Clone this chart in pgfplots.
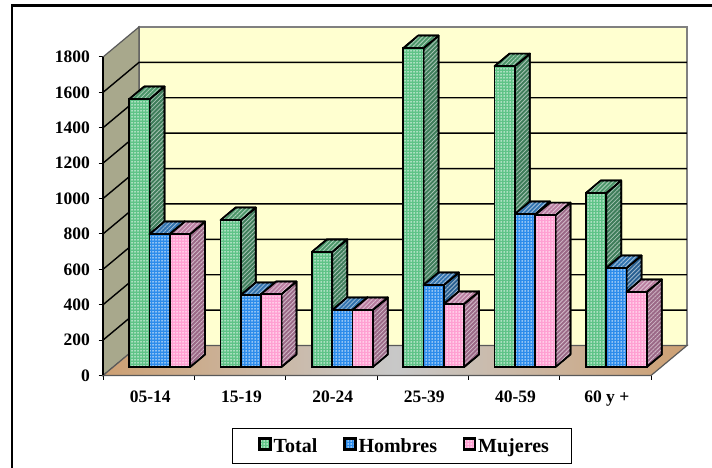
\documentclass[border=0pt]{standalone}
\usepackage{pgfplots}
\usepackage{pgfplotstable}
\usepackage{fontspec}
\setmainfont{Liberation Serif}
\pgfplotsset{compat=1.18}
\usetikzlibrary{patterns.meta}
\definecolor{wallback}{RGB}{255,255,208}
\definecolor{wallleft}{RGB}{168,168,140}
\definecolor{floortan}{RGB}{205,160,115}
\definecolor{floorgray}{RGB}{200,200,200}
\definecolor{gfront}{RGB}{95,195,135}
\definecolor{gside}{RGB}{62,125,90}
\definecolor{gtop}{RGB}{75,150,105}
\definecolor{bfront}{RGB}{45,140,235}
\definecolor{bside}{RGB}{40,95,145}
\definecolor{btop}{RGB}{50,115,175}
\definecolor{mfront}{RGB}{255,160,210}
\definecolor{mside}{RGB}{155,105,135}
\definecolor{mtop}{RGB}{185,125,160}
\pgfplotstableread{
idx total hombres mujeres
0 1514 751 751
1 830 407 412
2 650 322 322
3 1802 463 356
4 1700 864 858
5 983 559 424
}\datatable
\tikzset{
  stripes/.style={postaction={pattern={Lines[angle=45,distance=3pt,line width=0.8pt]},pattern color=white!55!#1}},
  dotty/.style={postaction={pattern={Dots[distance=3pt,radius=0.75pt]},pattern color=white}},
}
% depth of a bar: 0.164 categories (15 px), 71 value units (12.5 px)
\newcommand{\sides}[5]{% x left, x right, value, side colour, top colour
  \addplot[forget plot,draw=black,line width=1.7pt,line join=round,fill=#4,stripes=#4]
    coordinates {(#2,0) (#2+0.164,71) (#2+0.164,#3+71) (#2,#3)} --cycle;
  \addplot[forget plot,draw=black,line width=1.7pt,line join=round,fill=#5,stripes=#5]
    coordinates {(#1,#3) (#2,#3) (#2+0.164,#3+71) (#1+0.164,#3+71)} --cycle;
}
\begin{document}
\begin{tikzpicture}[x=1pt,y=1pt]
\path[use as bounding box] (0,0) rectangle (712,468);
\draw[line width=2.2pt] (12,0) -- (12,462.5) -- (712,462.5);
% walls, grid and axes: one px = 1pt, 91.33 px per category, 0.177 px per unit
\begin{axis}[
  at={(103pt,92.5pt)},anchor=south west,
  scale only axis,width=548pt,height=318.5pt,
  xmin=0,xmax=6,ymin=0,ymax=1800,clip=false,
  axis y line*=left,axis x line*=bottom,
  axis line style={-,line width=1.5pt},
  x axis line style={-,gray!60!black,line width=1.2pt},
  xtick={0,...,6},
  x tick label as interval,
  xticklabels={05-14,15-19,20-24,25-39,40-59,60 y +},
  ytick={0,200,...,1800},
  tick align=outside,
  major tick length=4.5pt,
  tick style={black,line width=1pt},
  /pgf/number format/assume math mode=true,
  /pgf/number format/set thousands separator={},
  ticklabel style={font=\fontsize{17.5}{17.5}\selectfont\bfseries},
  xticklabel style={yshift=-7pt,xshift=1.5pt},
  yticklabel style={xshift=-5pt},
]
% back wall (depth 0.394 categories, 169.5 units)
\addplot[forget plot,draw=gray,line width=1.6pt,fill=wallback]
  coordinates {(0.394,169.5) (6.394,169.5) (6.394,1969.5) (0.394,1969.5)} --cycle;
% left wall
\addplot[forget plot,draw=gray!70!black,line width=1.2pt,fill=wallleft]
  coordinates {(0,0) (0.394,169.5) (0.394,1969.5) (0,1800)} --cycle;
% floor
\addplot[forget plot,draw=gray!70!black,line width=1.2pt,shading=axis,left color=floortan,right color=floortan,middle color=floorgray]
  coordinates {(0,0) (6,0) (6.394,169.5) (0.394,169.5)} --cycle;
% grid lines
\foreach \v in {200,400,...,1600}{
  \edef\temp{\noexpand\addplot[forget plot,black,line width=1.4pt] coordinates {(0,\v) (0.394,\v+169.5) (6.394,\v+169.5)};}
  \temp
}
\addplot[forget plot,black,line width=1.4pt] coordinates {(0,0) (0,1800)};
\end{axis}
% bars: same scales, front plane moved 11 px right and 7 px up
\begin{axis}[
  at={(114pt,101pt)},anchor=south west,
  scale only axis,width=548pt,height=318.5pt,
  xmin=0,xmax=6,ymin=0,ymax=1800,clip=false,
  axis lines=none,
  bar width=0.2222,
  legend columns=3,
  legend cell align=left,
  legend style={
    at={(axis cs:1.292,-345)},anchor=north west,
    draw=black,line width=0.8pt,fill=white,
    font=\fontsize{20}{20}\selectfont\bfseries,
    inner xsep=20pt,inner ysep=8pt,
    /tikz/every even column/.append style={column sep=18pt},
  },
  legend image code/.code={
    \pgfpathmoveto{\pgfqpoint{-7pt}{0pt}}\pgfusepath{}
    \draw[#1,line width=2.4pt,draw=black] (0pt,-3.5pt) rectangle (11pt,7.5pt);
  },
]
\sides{0.1667}{0.3889}{1514}{gside}{gtop}
\sides{1.1667}{1.3889}{830}{gside}{gtop}
\sides{2.1667}{2.3889}{650}{gside}{gtop}
\sides{3.1667}{3.3889}{1802}{gside}{gtop}
\sides{4.1667}{4.3889}{1700}{gside}{gtop}
\sides{5.1667}{5.3889}{983}{gside}{gtop}
\addplot[ybar,bar shift=0.2778,draw=black,line width=1.7pt,fill=gfront,dotty]
  table[x=idx,y=total] {\datatable};
\addlegendentry{Total}
\sides{0.3889}{0.6111}{751}{bside}{btop}
\sides{1.3889}{1.6111}{407}{bside}{btop}
\sides{2.3889}{2.6111}{322}{bside}{btop}
\sides{3.3889}{3.6111}{463}{bside}{btop}
\sides{4.3889}{4.6111}{864}{bside}{btop}
\sides{5.3889}{5.6111}{559}{bside}{btop}
\addplot[ybar,bar shift=0.5,draw=black,line width=1.7pt,fill=bfront,dotty]
  table[x=idx,y=hombres] {\datatable};
\addlegendentry{Hombres}
\sides{0.6111}{0.8333}{751}{mside}{mtop}
\sides{1.6111}{1.8333}{412}{mside}{mtop}
\sides{2.6111}{2.8333}{322}{mside}{mtop}
\sides{3.6111}{3.8333}{356}{mside}{mtop}
\sides{4.6111}{4.8333}{858}{mside}{mtop}
\sides{5.6111}{5.8333}{424}{mside}{mtop}
\addplot[ybar,bar shift=0.7222,draw=black,line width=1.7pt,fill=mfront,dotty]
  table[x=idx,y=mujeres] {\datatable};
\addlegendentry{Mujeres}
\end{axis}
\end{tikzpicture}
\end{document}
